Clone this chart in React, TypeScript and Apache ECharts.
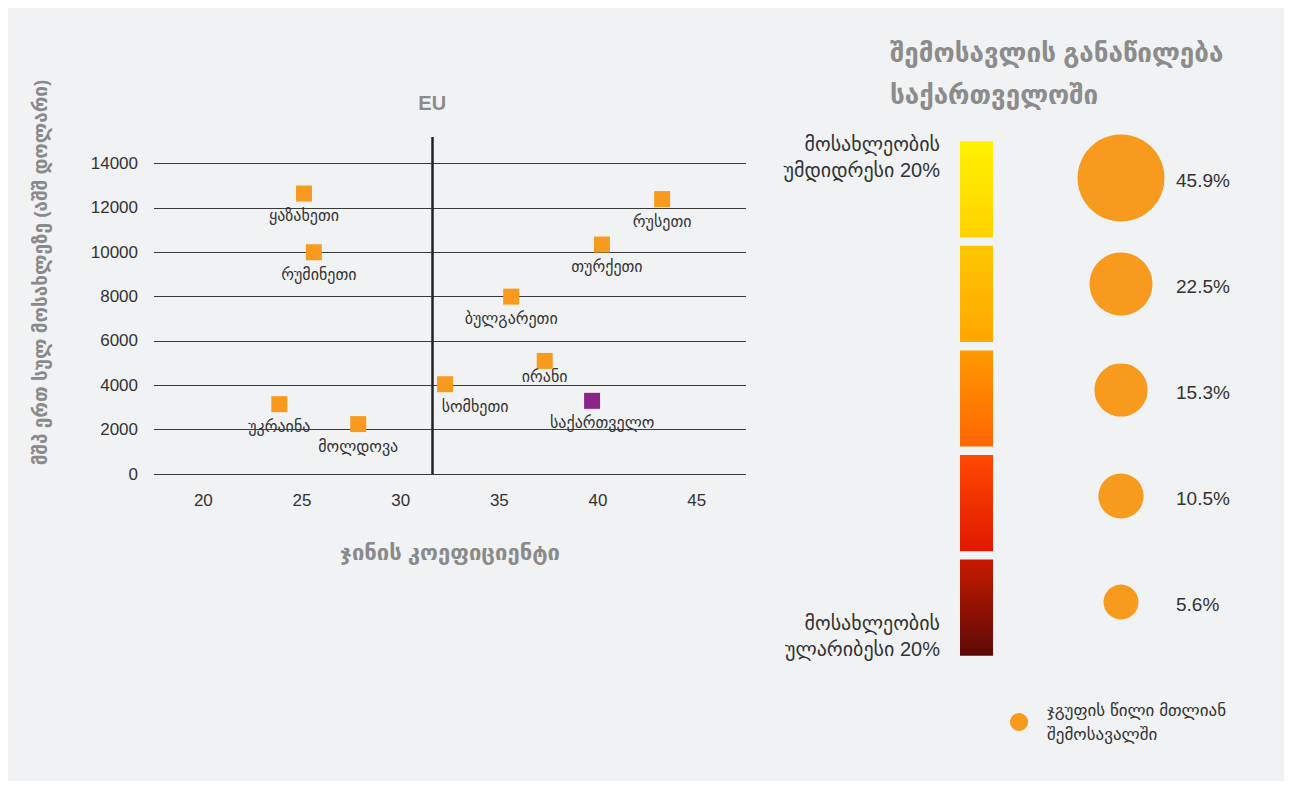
import React, { useEffect, useRef } from "react";
import * as echarts from "echarts";

// ---- data ----
const xTicks = [20, 25, 30, 35, 40, 45];
const yTicks = [0, 2000, 4000, 6000, 8000, 10000, 12000, 14000];
const countries = ["ყაზახეთი", "რუმინეთი", "უკრაინა", "მოლდოვა", "სომხეთი", "ირანი", "საქართველო", "ბულგარეთი", "თურქეთი", "რუსეთი"];
const gini = [25.1, 25.6, 23.85, 27.85, 32.25, 37.3, 39.7, 35.6, 40.2, 43.25];
const gdpPerCapita = [12650, 10000, 3150, 2250, 4050, 5100, 3300, 8000, 10350, 12400];
const highlightCountry = "საქართველო";
const euGini = 31.6;

const quintiles = ["მეხუთე", "მეოთხე", "მესამე", "მეორე", "პირველი"];
const populationShare = [20, 20, 20, 20, 20];
const incomeShare = [45.9, 22.5, 15.3, 10.5, 5.6];

// ---- styles ----
const FONT = "'Liberation Sans', 'DejaVu Sans', sans-serif";
const ORANGE = "#f89a1e";
const PURPLE = "#8b2589";
const BG = "#f1f2f4";
const quintileGradients = [
  ["#fff200", "#ffd200"],
  ["#ffc600", "#ffa600"],
  ["#ff9a00", "#ff6600"],
  ["#ff4a00", "#e01800"],
  ["#c81a00", "#5c0a06"],
];
const labelNudge: Record<string, number[]> = {
  "სომხეთი": [30, 0],
  "საქართველო": [10, 0],
  "რუმინეთი": [5, 0],
  "თურქეთი": [5, 0],
  "ირანი": [0, -6],
};

const shareLegendName = "ჯგუფის წილი მთლიან\nშემოსავალში";

function buildOption(): any {
  const scatterData = countries.map((c, i) => ({
    name: c,
    value: [gini[i], gdpPerCapita[i]],
    itemStyle: { color: c === highlightCountry ? PURPLE : ORANGE, opacity: 1 },
    label: labelNudge[c] ? { offset: labelNudge[c] } : undefined,
  }));

  const sideText = (text: string, top: number) => ({
    type: "text",
    x: 932,
    y: top,
    style: {
      text,
      align: "right",
      verticalAlign: "top",
      fontSize: 20,
      lineHeight: 26,
      fill: "#333",
      fontFamily: FONT,
    },
  });

  return {
    animation: false,
    backgroundColor: BG,
    textStyle: { fontFamily: FONT },
    title: {
      text: "შემოსავლის განაწილება\nსაქართველოში",
      left: 877,
      top: 19,
      textStyle: { fontSize: 26, fontWeight: "bold", color: "#8c8c8c", lineHeight: 42, fontFamily: FONT },
    },
    legend: {
      data: [shareLegendName],
      left: 997,
      top: 685,
      icon: "circle",
      itemWidth: 46,
      itemHeight: 18,
      textStyle: { fontSize: 17, color: "#333", lineHeight: 24, fontFamily: FONT },
      selectedMode: false,
    },
    grid: [
      { left: 146, top: 129, width: 592, height: 337 },
      { left: 1063, top: 117, width: 100, height: 530 },
      { left: 952, top: 129, width: 33, height: 523 },
    ],
    xAxis: [
      {
        gridIndex: 0,
        type: "value",
        min: 17.5,
        max: 47.5,
        axisLine: { show: false },
        axisTick: { show: false },
        splitLine: { show: false },
        axisLabel: { customValues: xTicks, fontSize: 17, color: "#333", margin: 18, fontFamily: FONT },
        name: "ჯინის კოეფიციენტი",
        nameLocation: "middle",
        nameGap: 67,
        nameTextStyle: { fontSize: 22, fontWeight: "bold", color: "#8a8a8a", fontFamily: FONT },
      },
      { gridIndex: 1, type: "value", min: 0, max: 2, show: false },
      { gridIndex: 2, type: "value", min: 0, max: 20, show: false },
    ],
    yAxis: [
      {
        gridIndex: 0,
        type: "value",
        min: 0,
        max: 15200,
        axisLine: { show: false },
        axisTick: { show: false },
        splitLine: { show: false },
        axisLabel: {
          customValues: yTicks,
          formatter: (v: number) => String(v),
          fontSize: 17,
          color: "#333",
          margin: 16,
          fontFamily: FONT,
        },
        name: "მშპ ერთ სულ მოსახლეზე (აშშ დოლარი)",
        nameLocation: "middle",
        nameGap: 104,
        nameRotate: 90,
        nameTextStyle: { fontSize: 19, fontWeight: "bold", color: "#8a8a8a", padding: [0, 0, 0, 66], fontFamily: FONT },
      },
      { gridIndex: 1, type: "category", data: quintiles, inverse: true, show: false },
      { gridIndex: 2, type: "category", data: quintiles, inverse: true, show: false },
    ],
    graphic: [
      sideText("მოსახლეობის\nუმდიდრესი 20%", 123),
      sideText("მოსახლეობის\nულარიბესი 20%", 602),
    ],
    series: [
      {
        type: "line",
        xAxisIndex: 0,
        yAxisIndex: 0,
        data: [],
        silent: true,
        z: 1,
        markLine: {
          z: 1,
          silent: true,
          symbol: "none",
          label: { show: false },
          lineStyle: { color: "#3a3a3a", width: 1, type: "solid" },
          data: yTicks.map((v) => ({ yAxis: v })),
        },
      },
      {
        type: "scatter",
        name: "countries",
        xAxisIndex: 0,
        yAxisIndex: 0,
        symbol: "rect",
        symbolSize: 16,
        z: 3,
        data: scatterData,
        label: {
          show: true,
          position: "bottom",
          distance: 6,
          formatter: "{b}",
          fontSize: 16,
          color: "#333",
          fontFamily: FONT,
        },
        markLine: {
          z: 4,
          silent: true,
          symbol: "none",
          lineStyle: { color: "#222", width: 2.5, type: "solid" },
          label: {
            show: true,
            position: "end",
            formatter: "EU",
            distance: 24,
            fontSize: 20,
            fontWeight: "bold",
            color: "#8a8a8a",
            fontFamily: FONT,
          },
          data: [{ xAxis: euGini }],
        },
      },
      {
        type: "bar",
        xAxisIndex: 2,
        yAxisIndex: 2,
        barCategoryGap: "8%",
        silent: true,
        data: populationShare.map((v, i) => ({
          value: v,
          itemStyle: {
            color: new echarts.graphic.LinearGradient(0, 0, 0, 1, [
              { offset: 0, color: quintileGradients[i][0] },
              { offset: 1, color: quintileGradients[i][1] },
            ]),
          },
        })),
      },
      {
        type: "scatter",
        name: shareLegendName,
        xAxisIndex: 1,
        yAxisIndex: 1,
        itemStyle: { color: ORANGE, opacity: 1 },
        symbolSize: (val: any) => 7 + 11.8 * Math.sqrt(val[2]),
        data: incomeShare.map((v, i) => [1, quintiles[i], v]),
        label: {
          show: true,
          position: "inside",
          align: "left",
          offset: [55, 2],
          formatter: (p: any) => `${p.value[2]}%`,
          fontSize: 19,
          color: "#333",
          fontFamily: FONT,
        },
      },
    ],
  };
}

export default function App() {
  const ref = useRef<HTMLDivElement>(null);
  useEffect(() => {
    if (!ref.current) return;
    const chart = echarts.init(ref.current, null, { renderer: "svg" });
    chart.setOption(buildOption());
    return () => chart.dispose();
  }, []);
  return <div ref={ref} style={{ width: 1276, height: 773, background: BG }} />;
}
